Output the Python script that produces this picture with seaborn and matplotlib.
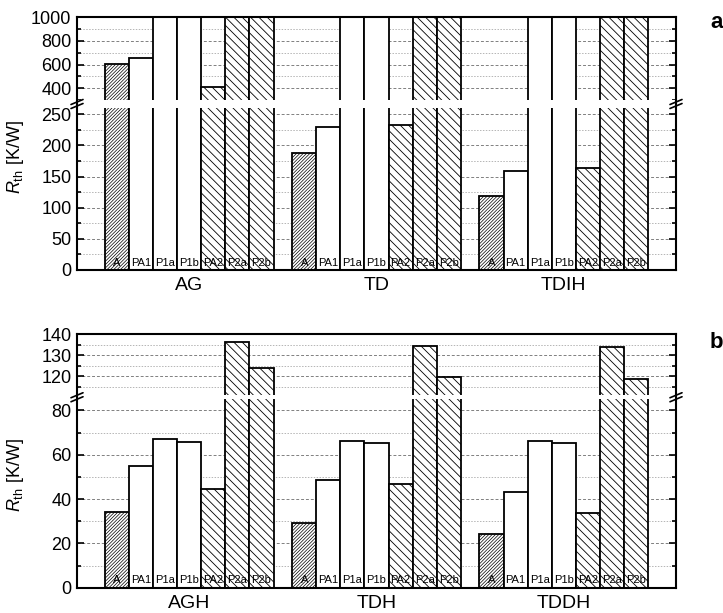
import numpy as np
import pandas as pd
import matplotlib
matplotlib.use("Agg")
import matplotlib.pyplot as plt
import seaborn as sns
from matplotlib.ticker import FixedLocator, NullFormatter

# ---------------- data ----------------
layers = ["A", "PA1", "P1a", "P1b", "PA2", "P2a", "P2b"]
samples_a = ["AG", "TD", "TDIH"]
samples_b = ["AGH", "TDH", "TDDH"]

# panel a (values above 1000 run off the top of the frame)
rth_AG = [607, 656, 1100, 1100, 408, 1100, 1100]
rth_TD = [187, 230, 1100, 1100, 233, 1100, 1100]
rth_TDIH = [119, 159, 1100, 1100, 164, 1100, 1100]
# panel b
rth_AGH = [34.1, 55.1, 66.9, 65.9, 44.6, 136.2, 123.8]
rth_TDH = [29.1, 48.5, 66.3, 65.3, 47.0, 134.6, 119.8]
rth_TDDH = [24.3, 43.3, 66.4, 65.1, 33.5, 133.8, 118.6]

ticks_a_major = [0, 50, 100, 150, 200, 250, 400, 600, 800, 1000]
ticks_a_minor = [25, 75, 125, 175, 225, 300, 500, 700, 900]
ticks_b_major = [0, 20, 40, 60, 80, 120, 130, 140]
ticks_b_minor = [10, 30, 50, 70, 115, 125, 135]

# ---------------- style ----------------
sns.set_theme(style="white")
plt.rcParams["font.family"] = ["Liberation Sans", "DejaVu Sans"]
plt.rcParams["mathtext.fontset"] = "custom"
plt.rcParams["mathtext.rm"] = "Liberation Sans"
plt.rcParams["mathtext.it"] = "Liberation Sans:italic"
plt.rcParams["mathtext.bf"] = "Liberation Sans:bold"
plt.rcParams["hatch.linewidth"] = 0.6
plt.rcParams["hatch.color"] = "black"
for k in ("text.color", "axes.labelcolor", "xtick.color", "ytick.color"):
    plt.rcParams[k] = "black"

hatches = {"A": "//////////", "PA1": "", "P1a": "", "P1b": "",
           "PA2": "\\\\\\\\", "P2a": "\\\\\\\\", "P2b": "\\\\\\\\"}


def broken_scale(vals, disp):
    vals = np.asarray(vals, float)
    disp = np.asarray(disp, float)

    def _map(x, a, b):
        x = np.asarray(x, float)
        out = np.interp(x, a, b)
        hi = (b[-1] - b[-2]) / (a[-1] - a[-2])
        lo = (b[1] - b[0]) / (a[1] - a[0])
        out = np.where(x > a[-1], b[-1] + (x - a[-1]) * hi, out)
        out = np.where(x < a[0], b[0] + (x - a[0]) * lo, out)
        return out

    return (lambda x: _map(x, vals, disp)), (lambda d: _map(d, disp, vals))


def panel(ax, samples, values, brk_vals, brk_disp, major, minor, ymax):
    df = pd.DataFrame({
        "sample": np.repeat(samples, len(layers)),
        "layer": layers * len(samples),
        "Rth": np.concatenate(values),
    })
    sns.barplot(data=df, x="sample", y="Rth", hue="layer", order=samples,
                hue_order=layers, palette={l: "white" for l in layers},
                saturation=1, edgecolor="black", linewidth=1.3, width=0.9,
                errorbar=None, legend=False, ax=ax, zorder=1)
    fwd, inv = broken_scale(brk_vals, brk_disp)
    ax.set_yscale("function", functions=(fwd, inv))
    ax.set_ylim(0, ymax)
    ax.set_xlim(-0.6, len(samples) - 0.4)

    for cont, layer in zip(ax.containers, layers):
        for bar in cont:
            bar.set_hatch(hatches[layer])
            if layer == "A" and hasattr(bar, "set_hatch_linewidth"):
                bar.set_hatch_linewidth(0.5)
            ax.annotate(layer, (bar.get_x() + bar.get_width() / 2, 0),
                        xytext=(0, 3.2), textcoords="offset points",
                        ha="center", va="baseline", fontsize=8, zorder=4)

    # white gap across the break
    ax.axhspan(brk_vals[1], brk_vals[2], color="white", zorder=1.5, lw=0)

    ax.yaxis.set_major_locator(FixedLocator(major))
    ax.yaxis.set_minor_locator(FixedLocator(minor))
    ax.yaxis.set_minor_formatter(NullFormatter())
    ax.set_axisbelow(True)
    ax.grid(False)
    ax.grid(axis="y", which="major", color="#808080", ls=(0, (3, 2)), lw=0.7)
    ax.grid(axis="y", which="minor", color="#b5b5b5", ls=(0, (1.5, 1.5)), lw=0.7)
    ax.tick_params(axis="y", which="both", direction="in", left=True,
                   right=True, labelsize=13, pad=4, width=1.2, color="black")
    ax.tick_params(axis="y", which="major", length=5)
    ax.tick_params(axis="y", which="minor", length=3)
    ax.tick_params(axis="x", length=0, labelsize=14, pad=5)
    ax.set_xlabel("")
    ax.set_ylabel("")
    for s in ax.spines.values():
        s.set_visible(True)
        s.set_color("black")
        s.set_linewidth(1.5)

    # break marks on both vertical spines
    top = float(fwd(ymax))
    yc = (brk_disp[1] + brk_disp[2]) / 2 / top
    w_px = ax.get_position().width * 723
    h_px = ax.get_position().height * 613
    dx, dy, off = 6 / w_px, 2.5 / h_px, 2.0 / h_px
    for xs in (0, 1):
        for o in (-off, off):
            ax.plot([xs - dx, xs + dx], [yc + o - dy, yc + o + dy],
                    transform=ax.transAxes, color="black", lw=1.2,
                    clip_on=False, zorder=5)


fig = plt.figure(figsize=(7.23, 6.13), dpi=100)
ax_a = fig.add_axes([77 / 723, 1 - 270 / 613, 599 / 723, 252.7 / 613])
ax_b = fig.add_axes([77 / 723, 1 - 587.7 / 613, 599 / 723, 253.4 / 613])

panel(ax_a, samples_a, [rth_AG, rth_TD, rth_TDIH],
      [0, 260, 300, 1000], [0, 162, 170, 252.7],
      ticks_a_major, ticks_a_minor, 1000)
panel(ax_b, samples_b, [rth_AGH, rth_TDH, rth_TDDH],
      [0, 85, 111, 140], [0, 188.3, 192.6, 253.4],
      ticks_b_major, ticks_b_minor, 140)

ylab = r"$R_{\rm th}$ [K/W]"
fig.text(15 / 723, 1 - 157 / 613, ylab, rotation=90, ha="center",
         va="center", fontsize=13)
fig.text(15 / 723, 1 - 475 / 613, ylab, rotation=90, ha="center",
         va="center", fontsize=13)
fig.text(717 / 723, 1 - 22 / 613, "a", fontsize=16, fontweight="bold",
         ha="center", va="center")
fig.text(716 / 723, 1 - 342 / 613, "b", fontsize=16, fontweight="bold",
         ha="center", va="center")

fig.savefig("out.png", dpi=100)
